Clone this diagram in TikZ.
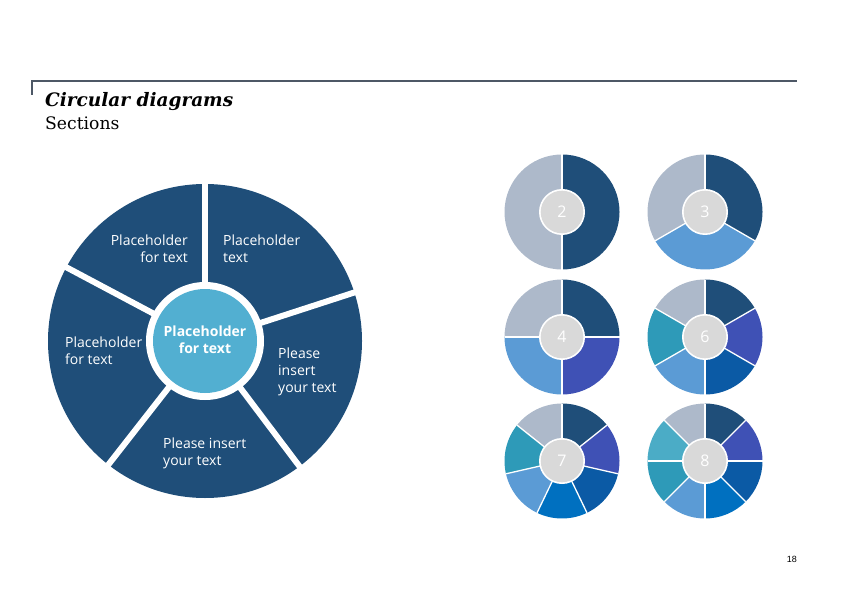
\documentclass[tikz,border=0pt]{standalone}
\usepackage{fontspec}
\setmainfont{Open Sans}
\newfontfamily\titlefont{DejaVu Serif}
\newfontfamily\pagefont{Liberation Sans}
\definecolor{cdark}{HTML}{1F4E79}
\definecolor{cgray}{HTML}{ADB9CA}
\definecolor{cindigo}{HTML}{3F51B5}
\definecolor{cmed}{HTML}{0B5AA5}
\definecolor{cbright}{HTML}{0070C0}
\definecolor{clight}{HTML}{5B9BD5}
\definecolor{cteal}{HTML}{2E9AB8}
\definecolor{clteal}{HTML}{4BACC6}
\definecolor{ccenter}{HTML}{52AFD1}
\definecolor{cinner}{HTML}{D9D9D9}
\definecolor{cline}{HTML}{4D5866}
\tikzset{
  bigtxt/.style={text=white,inner sep=0pt,font=\fontsize{14}{17}\selectfont},
  smallnum/.style={text=white,inner sep=0pt,font=\fontsize{16}{16}\selectfont},
}
\newcommand{\mypie}[5]{%
  % #1 name, #2 x, #3 y, #4 number, #5 colour list
  \coordinate (#1) at (#2,#3);
  \foreach \col [count=\i] in {#5} {
    \pgfmathsetmacro{\sa}{90-(\i-1)*360/#4}
    \pgfmathsetmacro{\ea}{90-\i*360/#4}
    \fill[\col] (#1) -- ++(\sa:57.5) arc (\sa:\ea:57.5) -- cycle;
  }
  \foreach \i in {1,...,#4} {
    \pgfmathsetmacro{\sa}{90-(\i-1)*360/#4}
    \draw[white,line width=1.3pt] (#1) -- ++(\sa:57.5);
  }
  \fill[white] (#1) circle (23);
  \fill[cinner] (#1) circle (21.3);
  \node[smallnum] (#1n) at (#1) {#4};
}
\begin{document}
\begin{tikzpicture}[x=1pt,y=1pt]
\useasboundingbox (0,0) rectangle (842,595);
% header line
\coordinate (hl) at (32,514);
\coordinate (hr) at (797,514);
\coordinate (hb) at (32,500);
\draw[cline,line width=2pt] (hb) -- (hl) -- (hr);
\node[anchor=base west,inner sep=0pt,font=\titlefont\bfseries\itshape\fontsize{18.5}{20}\selectfont] (title) at (45,488.5) {Circular diagrams};
\node[anchor=base west,inner sep=0pt,font=\titlefont\fontsize{17.2}{19}\selectfont] (sub) at (45,465) {Sections};
% big pie
\coordinate (bc) at (205,254);
\fill[cdark] (bc) circle (157);
\foreach \a in {18,90,152,232,307} {
  \draw[white,line width=6pt] (bc) -- ++(\a:160);
}
\fill[white] (bc) circle (59);
\fill[ccenter] (bc) circle (52);
\node[bigtxt,anchor=base east,align=right] (t1) at (188,333) {Placeholder\\for text};
\node[bigtxt,anchor=base west,align=left] (t2) at (223,333) {Placeholder\\text};
\node[bigtxt,anchor=base west,align=left] (t3) at (65,231) {Placeholder\\for text};
\node[bigtxt,anchor=base,align=center,font=\bfseries\fontsize{14}{17}\selectfont] (t4) at (205,242) {Placeholder\\for text};
\node[bigtxt,anchor=base west,align=left] (t5) at (278,203) {Please\\insert\\your text};
\node[bigtxt,anchor=base west,align=left] (t6) at (163,130) {Please insert\\your text};
% small pies
\mypie{p2}{562}{383}{2}{cdark,cgray}
\mypie{p3}{705}{383}{3}{cdark,clight,cgray}
\mypie{p4}{562}{258}{4}{cdark,cindigo,clight,cgray}
\mypie{p6}{705}{258}{6}{cdark,cindigo,cmed,clight,cteal,cgray}
\mypie{p7}{562}{134}{7}{cdark,cindigo,cmed,cbright,clight,cteal,cgray}
\mypie{p8}{705}{134}{8}{cdark,cindigo,cmed,cbright,clight,cteal,clteal,cgray}
% page number
\node[anchor=base east,inner sep=0pt,font=\pagefont\fontsize{9}{10}\selectfont] (pg) at (797,33) {18};
\end{tikzpicture}
\end{document}
